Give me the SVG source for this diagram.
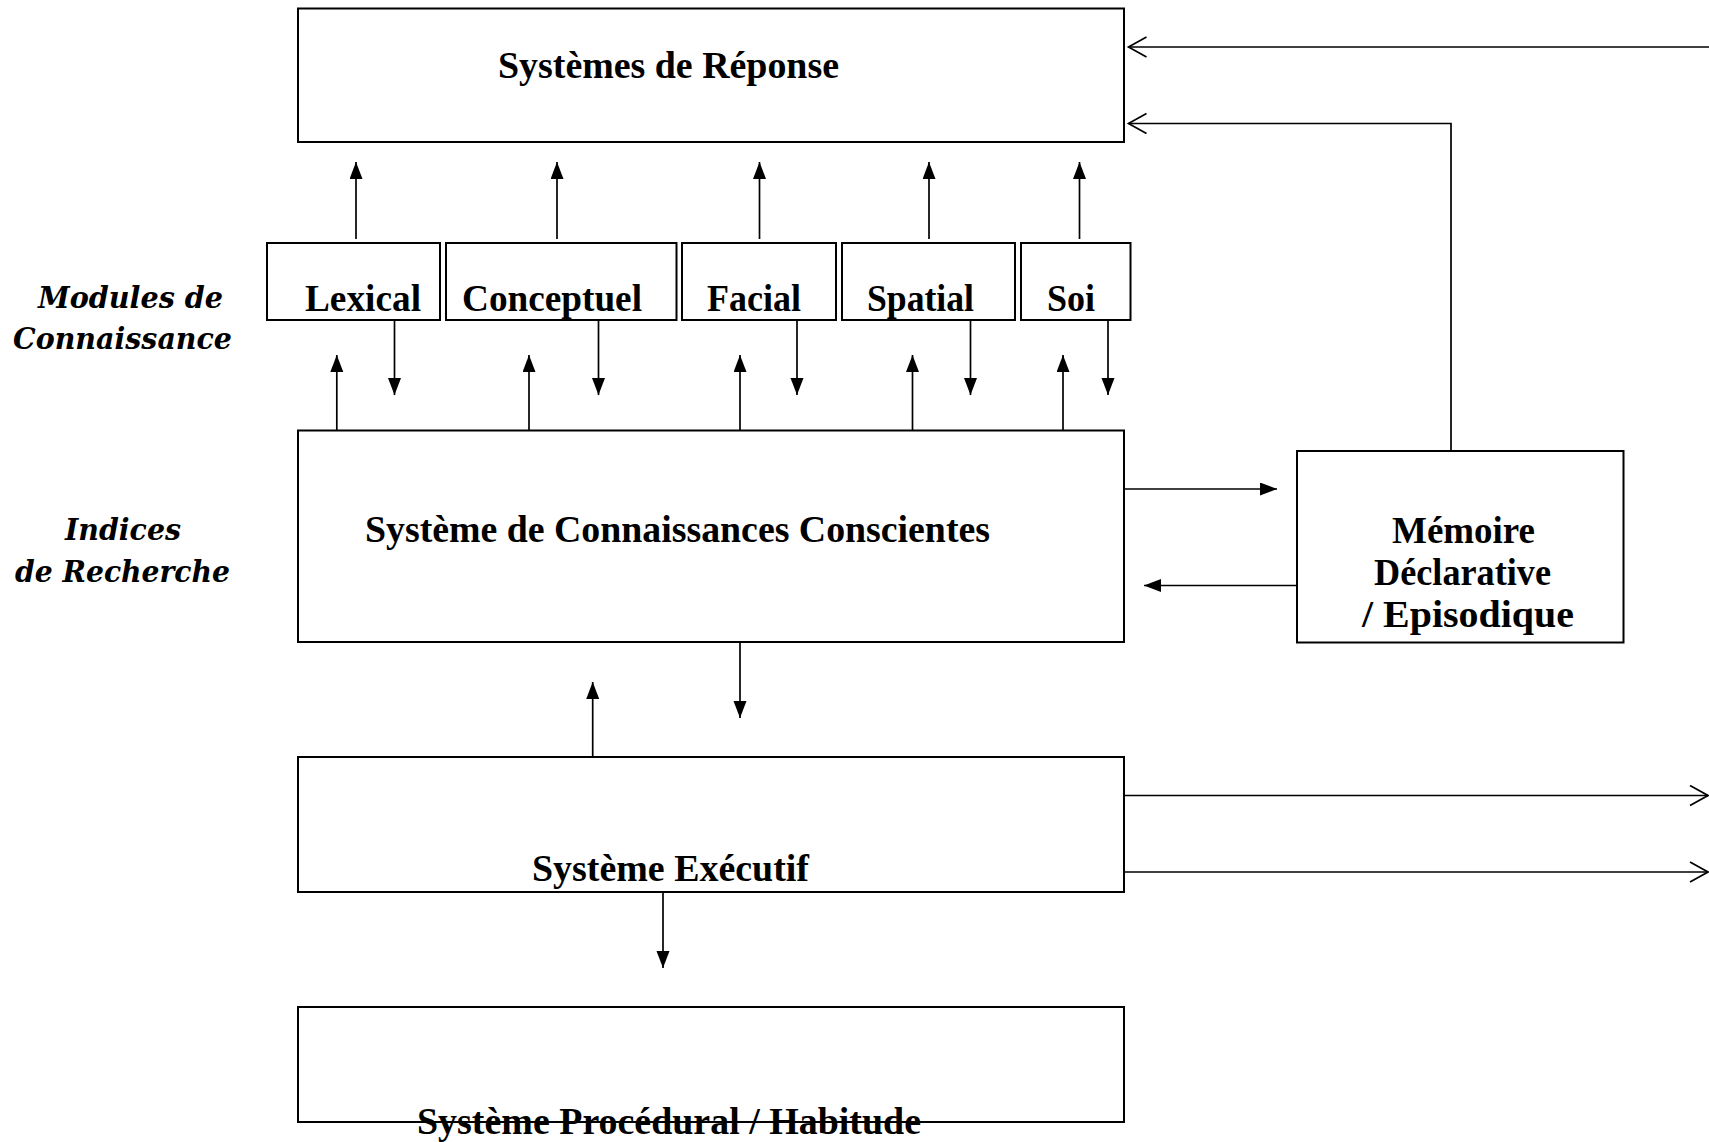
<svg xmlns="http://www.w3.org/2000/svg" width="1709" height="1142" viewBox="0 0 1709 1142">
<style>
.box{fill:#fff;stroke:#000;stroke-width:2}
.t{font-family:"Liberation Serif","Times New Roman",serif;font-weight:bold;font-size:37px;fill:#000}
.lbl{font-family:"DejaVu Serif","Liberation Serif",serif;font-weight:bold;font-style:italic;font-size:29px;fill:#000}
.c{fill:none;stroke:#000;stroke-width:1.7}
.f{marker-end:url(#fa)}
.o{marker-end:url(#oa)}
</style>
<defs>
<marker id="fa" markerUnits="userSpaceOnUse" markerWidth="18" markerHeight="14" refX="17" refY="6.5" orient="auto">
<path d="M0,0 L17,6.5 L0,13 z" fill="#000"/>
</marker>
<marker id="oa" markerUnits="userSpaceOnUse" markerWidth="22" markerHeight="24" refX="19" refY="11" orient="auto">
<path d="M1,1 L19,11 L1,21" fill="none" stroke="#000" stroke-width="1.7"/>
</marker>
</defs>
<rect width="1709" height="1142" fill="#fff"/>

<g id="labels">
<text class="lbl" x="38" y="308" textLength="185" lengthAdjust="spacingAndGlyphs">Modules de</text>
<text class="lbl" x="13" y="349" textLength="219" lengthAdjust="spacingAndGlyphs">Connaissance</text>
<text class="lbl" x="65" y="540" textLength="116" lengthAdjust="spacingAndGlyphs">Indices</text>
<text class="lbl" x="15" y="582" textLength="215" lengthAdjust="spacingAndGlyphs">de Recherche</text>
</g>

<g id="reponse">
<rect class="box" x="298" y="8.5" width="826" height="133.5"/>
<text class="t" x="498" y="78" textLength="341" lengthAdjust="spacingAndGlyphs">Systèmes de Réponse</text>
</g>

<g id="lexical">
<rect class="box" x="267" y="243" width="173" height="77"/>
<text class="t" x="305" y="311" textLength="116" lengthAdjust="spacingAndGlyphs">Lexical</text>
</g>
<g id="conceptuel">
<rect class="box" x="446" y="243" width="230.5" height="77"/>
<text class="t" x="462" y="311" textLength="180" lengthAdjust="spacingAndGlyphs">Conceptuel</text>
</g>
<g id="facial">
<rect class="box" x="682" y="243" width="154" height="77"/>
<text class="t" x="707" y="311" textLength="94" lengthAdjust="spacingAndGlyphs">Facial</text>
</g>
<g id="spatial">
<rect class="box" x="842" y="243" width="173" height="77"/>
<text class="t" x="867" y="311" textLength="107" lengthAdjust="spacingAndGlyphs">Spatial</text>
</g>
<g id="soi">
<rect class="box" x="1021" y="243" width="109.5" height="77"/>
<text class="t" x="1047" y="311" textLength="48" lengthAdjust="spacingAndGlyphs">Soi</text>
</g>

<g id="conscientes">
<rect class="box" x="298" y="430.5" width="826" height="211.5"/>
<text class="t" x="365" y="542" textLength="625" lengthAdjust="spacingAndGlyphs">Système de Connaissances Conscientes</text>
</g>

<g id="memoire">
<rect class="box" x="1297" y="451" width="326.5" height="191.5"/>
<text class="t" x="1392" y="543" textLength="143" lengthAdjust="spacingAndGlyphs">Mémoire</text>
<text class="t" x="1374" y="584.5" textLength="177" lengthAdjust="spacingAndGlyphs">Déclarative</text>
<text class="t" x="1362" y="627" textLength="212" lengthAdjust="spacingAndGlyphs">/ Episodique</text>
</g>

<g id="executif">
<rect class="box" x="298" y="757" width="826" height="135"/>
<text class="t" x="532" y="881" textLength="277" lengthAdjust="spacingAndGlyphs">Système Exécutif</text>
</g>

<g id="procedural">
<rect class="box" x="298" y="1007" width="826" height="115"/>
<text class="t" x="417" y="1134" textLength="504" lengthAdjust="spacingAndGlyphs">Système Procédural / Habitude</text>
</g>

<g id="connectors">
<line class="c f" x1="356" y1="239" x2="356" y2="162"/>
<line class="c f" x1="557" y1="239" x2="557" y2="162"/>
<line class="c f" x1="759.5" y1="239" x2="759.5" y2="162"/>
<line class="c f" x1="929" y1="239" x2="929" y2="162"/>
<line class="c f" x1="1079.5" y1="239" x2="1079.5" y2="162"/>

<line class="c f" x1="394.5" y1="319" x2="394.5" y2="395"/>
<line class="c f" x1="598.5" y1="319" x2="598.5" y2="395"/>
<line class="c f" x1="797" y1="319" x2="797" y2="395"/>
<line class="c f" x1="970.5" y1="319" x2="970.5" y2="395"/>
<line class="c f" x1="1108" y1="319" x2="1108" y2="395"/>

<line class="c f" x1="336.8" y1="430" x2="336.8" y2="355"/>
<line class="c f" x1="529" y1="430" x2="529" y2="355"/>
<line class="c f" x1="740" y1="430" x2="740" y2="355"/>
<line class="c f" x1="912.5" y1="430" x2="912.5" y2="355"/>
<line class="c f" x1="1063" y1="430" x2="1063" y2="355"/>

<line class="c f" x1="1124" y1="489" x2="1277" y2="489"/>
<line class="c f" x1="1297" y1="585.5" x2="1144" y2="585.5"/>

<line class="c f" x1="740" y1="642" x2="740" y2="718"/>
<line class="c f" x1="592.7" y1="757" x2="592.7" y2="682"/>
<line class="c f" x1="663" y1="892" x2="663" y2="968"/>

<line class="c o" x1="1124" y1="795.5" x2="1708" y2="795.5"/>
<line class="c o" x1="1124" y1="872" x2="1708" y2="872"/>

<line class="c o" x1="1709" y1="47" x2="1128.5" y2="47"/>
<polyline class="c o" points="1451,451 1451,123.5 1128.5,123.5"/>
</g>
</svg>
